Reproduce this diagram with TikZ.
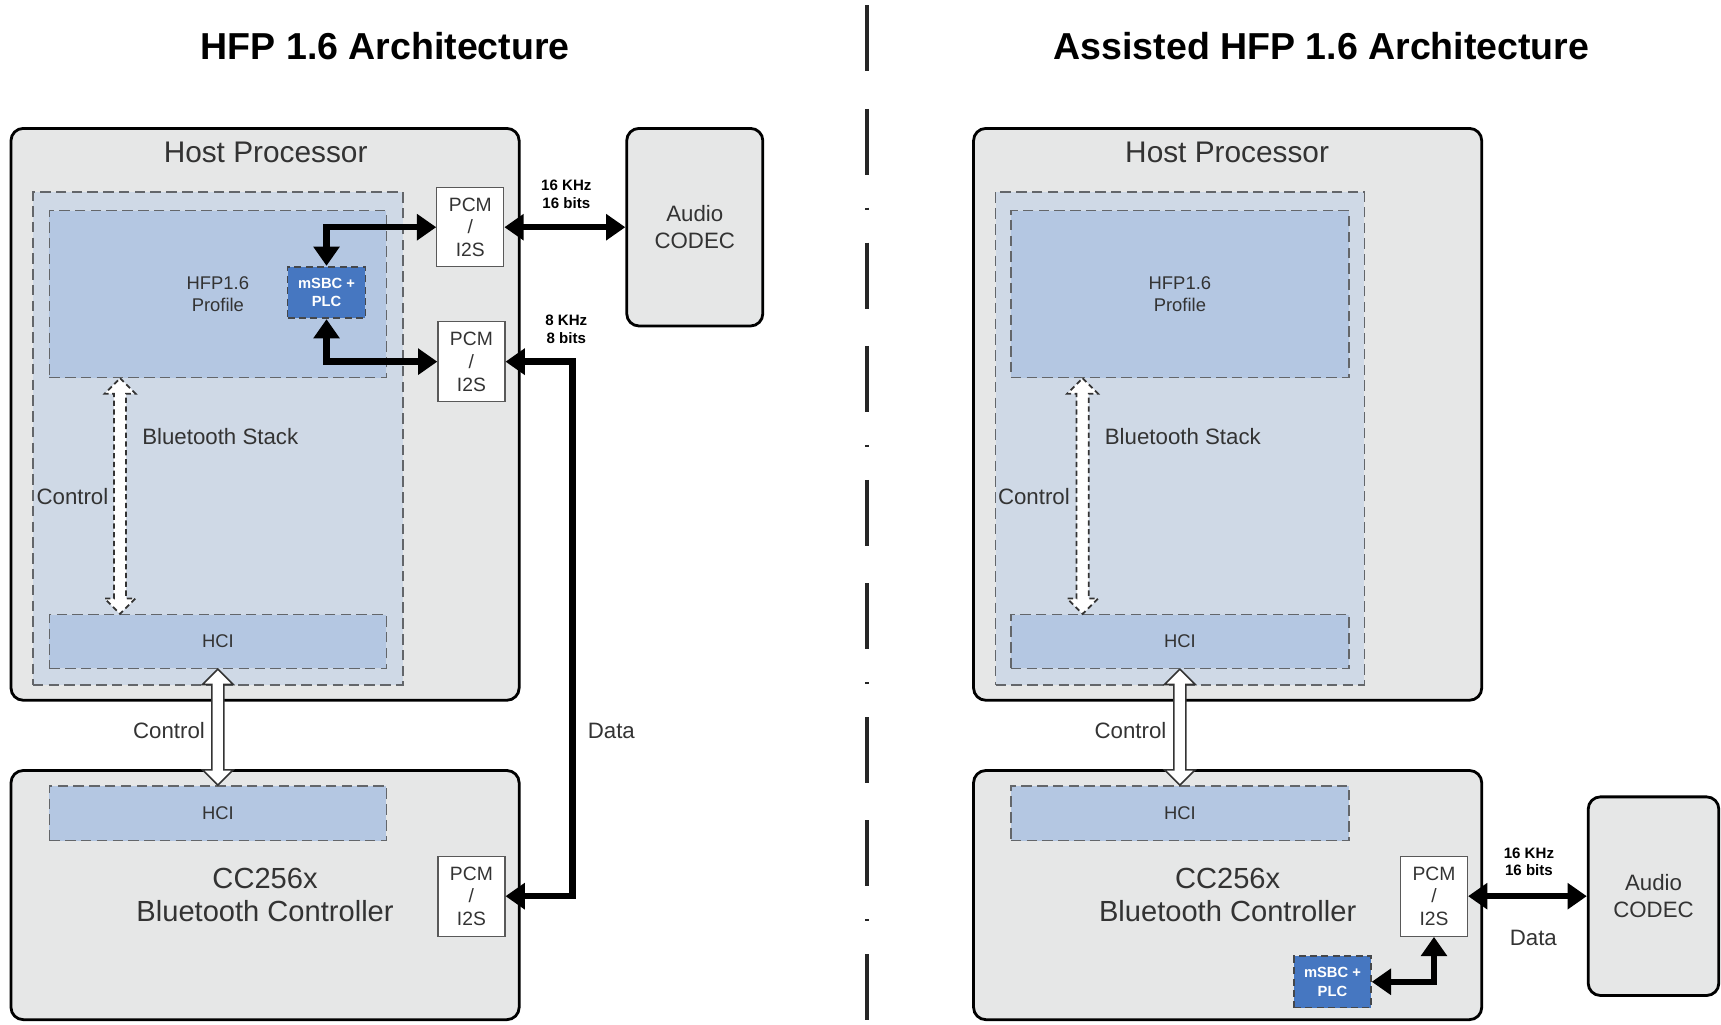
\documentclass[tikz,border=0pt]{standalone}
\usepackage{fontspec}
\setmainfont{Liberation Sans}
\usetikzlibrary{positioning,calc,arrows.meta}

\definecolor{hostgray}{HTML}{E6E7E7}
\definecolor{stackblue}{HTML}{CFD9E6}
\definecolor{profblue}{HTML}{B4C7E2}
\definecolor{msbcblue}{HTML}{4677C1}
\definecolor{dashgray}{HTML}{63666A}
\definecolor{txtgray}{HTML}{333333}

% hollow vertical double arrow between two points
\newcommand{\fatarrow}[3]{%
  \draw[#1] (#2) -- ++(14,14) -- ++(-8.5,0) -- ($(#3)+(5.5,-14)$)
    -- ++(8.5,0) -- (#3) -- ++(-14,-14) -- ++(8.5,0)
    -- ($(#2)+(-5.5,14)$) -- ++(-8.5,0) -- cycle;}

\begin{document}
\begin{tikzpicture}[
    x=0.022cm, y=-0.022cm,
    sz/.style 2 args={minimum width=#1*0.022cm, minimum height=#2*0.022cm},
    fat/.tip={Triangle[length=11pt,width=14.5pt]},
    title/.style={font=\bfseries\fontsize{21.4}{24}\selectfont},
    hostbox/.style={draw, line width=1.6pt, rounded corners=7pt,
      fill=hostgray, inner sep=0pt, text=txtgray, align=center},
    stackbox/.style={draw=dashgray, dash pattern=on 6pt off 3pt,
      line width=0.8pt, fill=stackblue, inner sep=0pt},
    profbox/.style={stackbox, fill=profblue, text=txtgray, align=center,
      font=\fontsize{10.5}{13}\selectfont},
    msbcbox/.style={draw=dashgray!70!black, dash pattern=on 4pt off 2.5pt,
      line width=1pt, fill=msbcblue, inner sep=0pt, text=white, align=center,
      font=\bfseries\fontsize{8.4}{10.5}\selectfont},
    pcmbox/.style={draw=black!65, line width=0.7pt, fill=white, inner sep=0pt,
      text=txtgray, align=center, font=\fontsize{11}{13}\selectfont},
    hosttext/.style={text=txtgray, font=\fontsize{17}{20}\selectfont},
    midtext/.style={text=txtgray, font=\fontsize{12.7}{15}\selectfont},
    ratetext/.style={align=center, font=\bfseries\fontsize{8.6}{10}\selectfont},
    data/.style={line width=3.6pt, fat-fat},
    ctrlsolid/.style={draw=black!80, line width=0.9pt, fill=white, line join=miter},
    ctrldash/.style={draw=black!80, line width=1pt, fill=white,
      dash pattern=on 3pt off 2pt},
    divider/.style={line width=2pt, black!85,
      dash pattern=on 37.6pt off 21.3pt on 37.6pt off 18.8pt on 1.2pt off 18.8pt}
  ]
  \useasboundingbox (0,0) rectangle (1568,933);

  \node[title] (t1) at (351,42) {HFP 1.6 Architecture};
  \node[title] (t2) at (1204,42) {Assisted HFP 1.6 Architecture};
  \draw[divider] (790,5) -- (790,933);

  % left: HFP 1.6
  \node[hostbox, sz={463}{521}] (hp1) at (241.5,377.5) {};
  \node[hosttext] (hp1t) at (242,139) {Host Processor};
  \node[stackbox, sz={337}{449}] (stack1) at (198.5,399.5) {};
  \node[profbox, sz={307}{152}] (prof1) at (198.5,268) {HFP1.6\\Profile};
  \node[msbcbox, sz={71}{47}] (msbc1) at (297.5,266.5) {mSBC +\\PLC};
  \node[profbox, sz={307}{49}] (hciA) at (198.5,584.5) {HCI};
  \node[midtext, anchor=west] (bs1) at (124,398) {Bluetooth Stack};
  \node[pcmbox, sz={61}{72}] (pcmA) at (428.5,207) {PCM\\/\\I2S};
  \node[pcmbox, sz={61}{73}] (pcmB) at (429.5,329.5) {PCM\\/\\I2S};
  \node[hostbox, sz={124}{180},
    font=\fontsize{12.7}{15.6}\selectfont] (codec1) at (633,207) {Audio\\CODEC};
  \node[hostbox, sz={463}{227},
    font=\fontsize{16.6}{18.5}\selectfont] (ctl1) at (241.5,815.5)
    {CC256x\\Bluetooth Controller};
  \node[profbox, sz={307}{50}] (hciB) at (198.5,741) {HCI};
  \node[pcmbox, sz={61}{73}] (pcmC) at (429.5,816.5) {PCM\\/\\I2S};

  \draw[data] (msbc1.north) |- (pcmA.west);
  \draw[data] (msbc1.south) |- (pcmB.west);
  \draw[data] (pcmA.east) -- (codec1.west);
  \draw[data] (pcmB.east) -- ++(61,0) |- (pcmC.east);
  \coordinate (ca1) at ($(prof1.south west)+(65,0)$);
  \coordinate (cb1) at ($(hciA.north west)+(65,0)$);
  \fatarrow{ctrldash}{ca1}{cb1}
  \fatarrow{ctrlsolid}{hciA.south}{hciB.north}

  \node[ratetext] (r1) at (516,177) {16 KHz\\16 bits};
  \node[ratetext] (r2) at (516,300) {8 KHz\\8 bits};
  \node[midtext] (d1) at (557,666) {Data};
  \node[midtext] (c1) at (66,452) {Control};
  \node[midtext] (c2) at (154,666) {Control};

  % right: Assisted HFP 1.6
  \node[hostbox, sz={463}{521}] (hp2) at (1118.5,377.5) {};
  \node[hosttext] (hp2t) at (1118,139) {Host Processor};
  \node[stackbox, sz={336}{449}] (stack2) at (1075,399.5) {};
  \node[profbox, sz={308}{152}] (prof2) at (1075,268) {HFP1.6\\Profile};
  \node[profbox, sz={308}{49}] (hciC) at (1075,584.5) {HCI};
  \node[midtext, anchor=west] (bs2) at (1001,398) {Bluetooth Stack};
  \node[hostbox, sz={463}{227},
    font=\fontsize{16.6}{18.5}\selectfont] (ctl2) at (1118.5,815.5)
    {CC256x\\Bluetooth Controller};
  \node[profbox, sz={308}{50}] (hciD) at (1075,741) {HCI};
  \node[pcmbox, sz={61}{73}] (pcmD) at (1306.5,816.5) {PCM\\/\\I2S};
  \node[msbcbox, sz={70}{47}] (msbc2) at (1214,894.5) {mSBC +\\PLC};
  \node[hostbox, sz={119}{181},
    font=\fontsize{12.7}{15.6}\selectfont] (codec2) at (1506.5,816.5) {Audio\\CODEC};

  \draw[data] (msbc2.east) -| (pcmD.south);
  \draw[data] (pcmD.east) -- (codec2.west);
  \coordinate (ca2) at ($(prof2.south west)+(66,0)$);
  \coordinate (cb2) at ($(hciC.north west)+(66,0)$);
  \fatarrow{ctrldash}{ca2}{cb2}
  \fatarrow{ctrlsolid}{hciC.south}{hciD.north}

  \node[ratetext] (r3) at (1393,785) {16 KHz\\16 bits};
  \node[midtext] (d2) at (1397,855) {Data};
  \node[midtext] (c3) at (942,452) {Control};
  \node[midtext] (c4) at (1030,666) {Control};
\end{tikzpicture}
\end{document}
